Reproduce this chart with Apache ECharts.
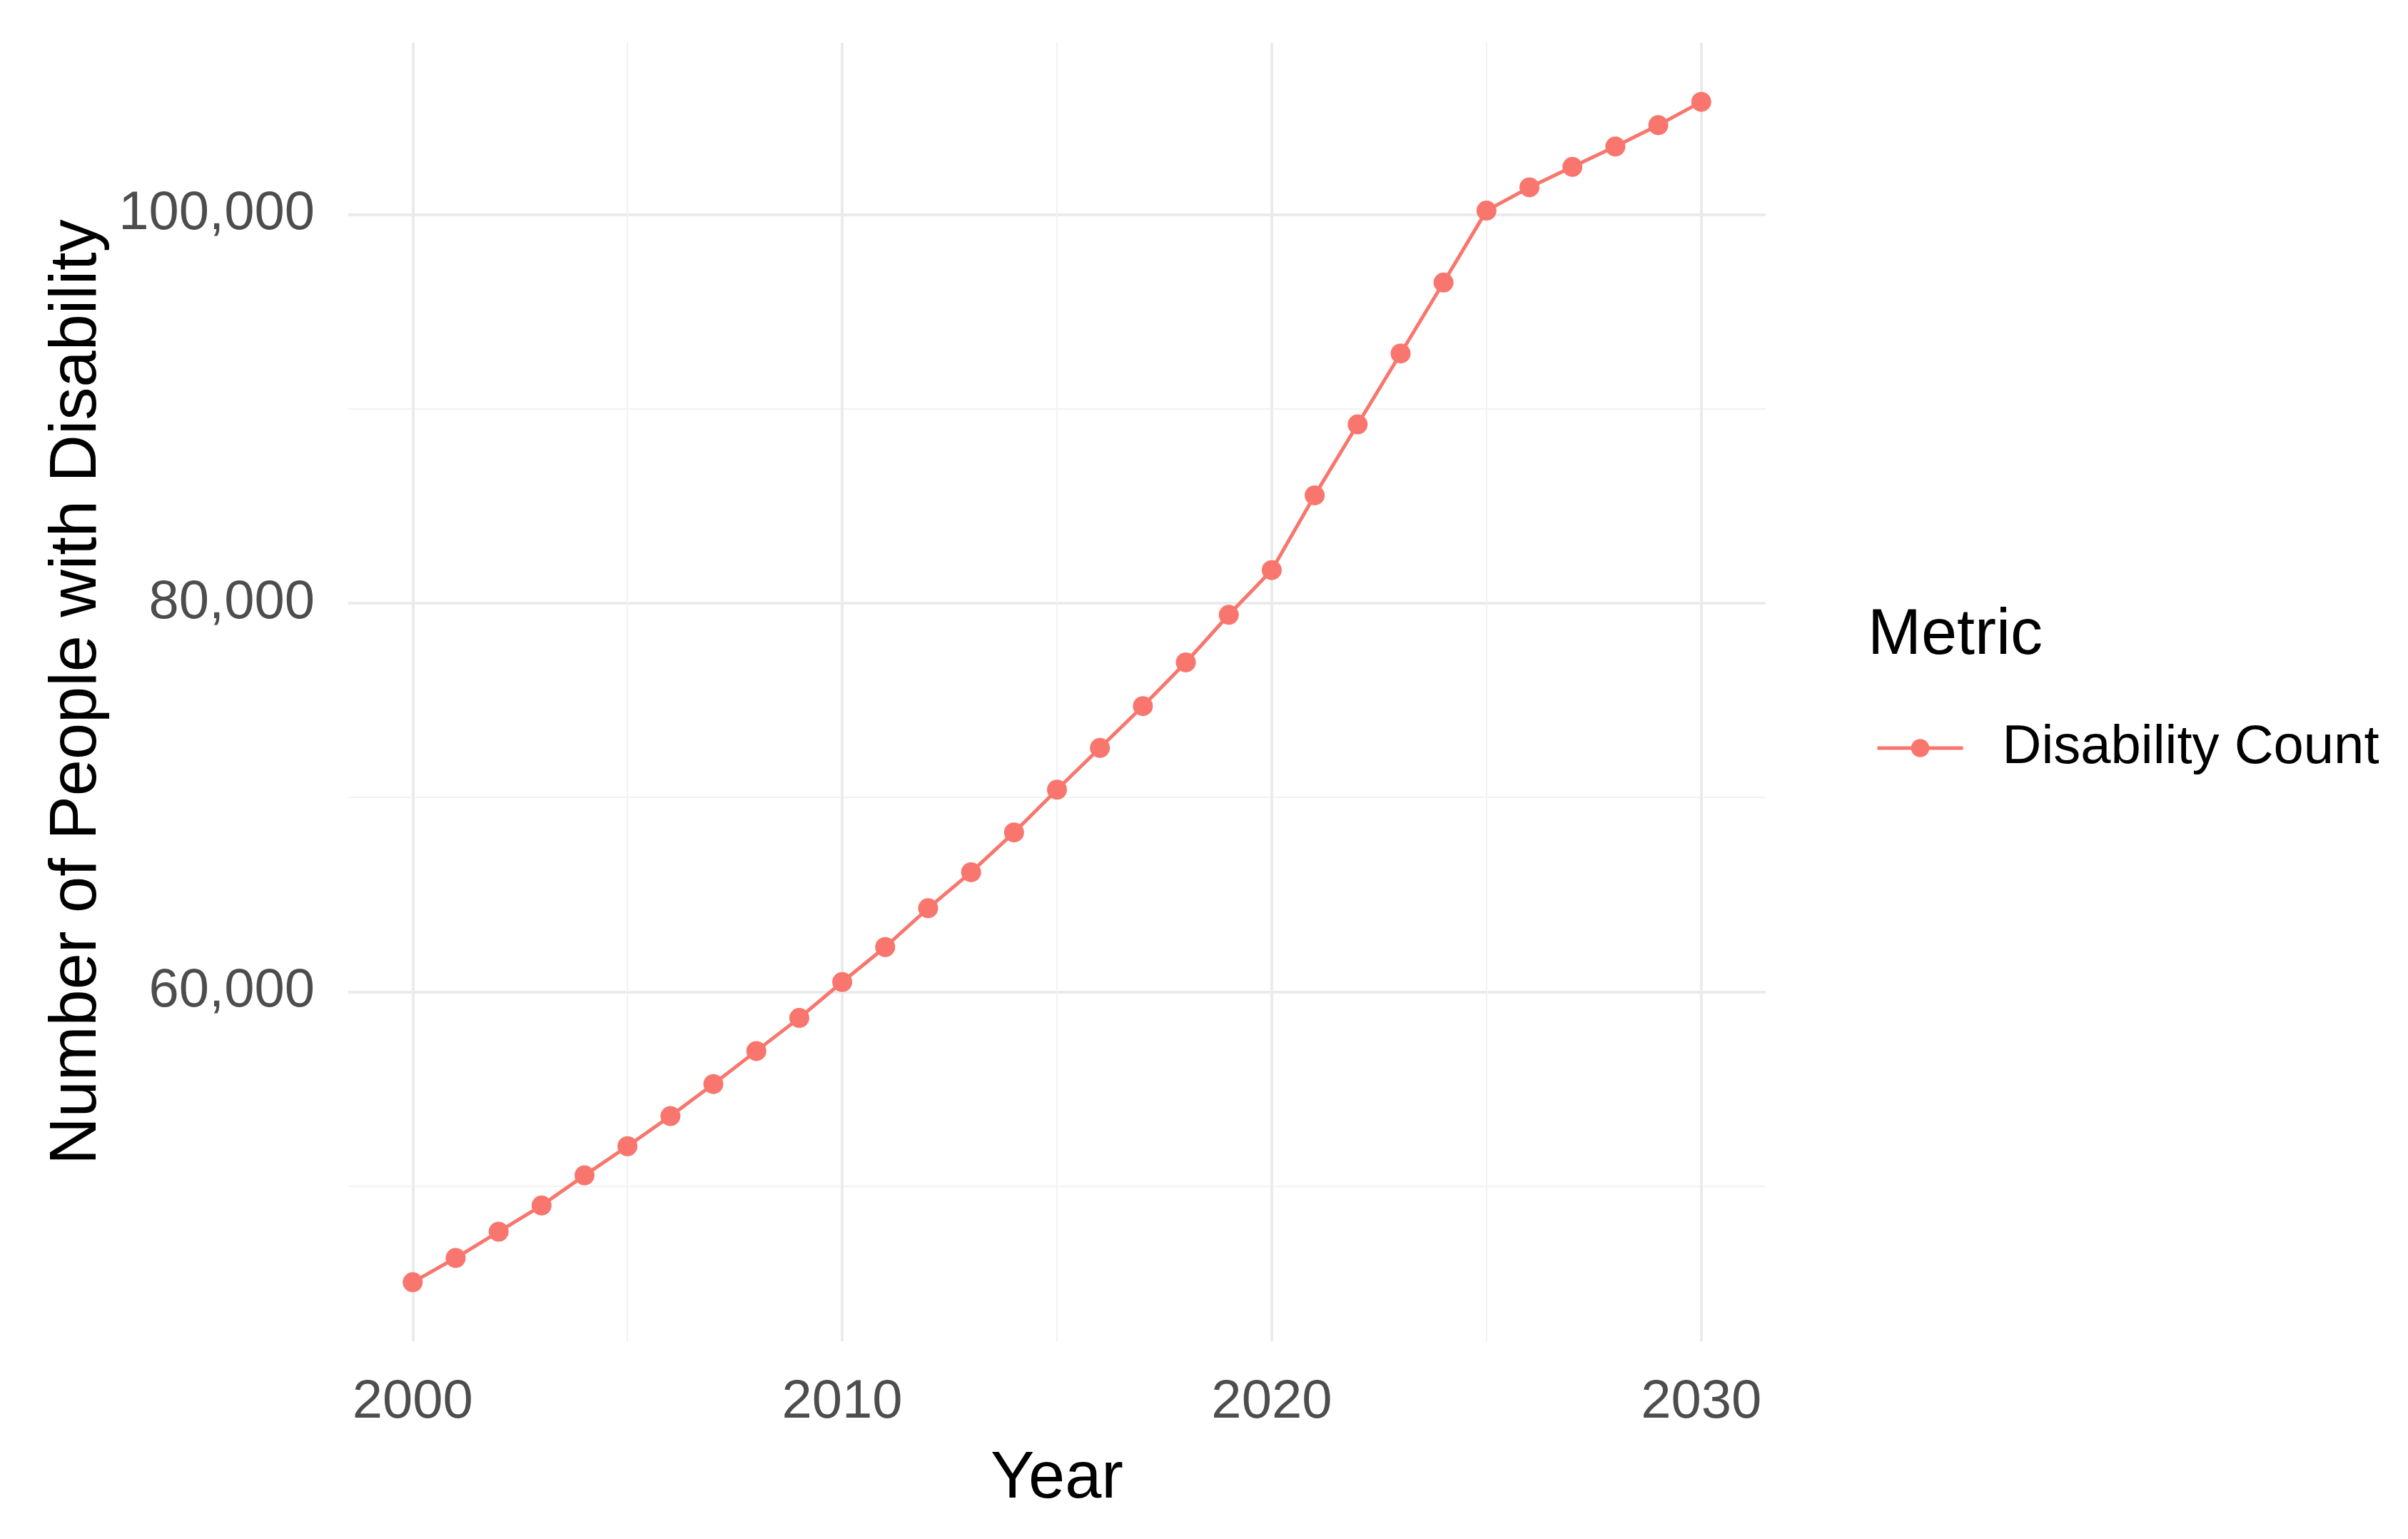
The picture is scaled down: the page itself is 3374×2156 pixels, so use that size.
<!DOCTYPE html>
<html>
<head>
<meta charset="utf-8">
<script src="https://cdn.jsdelivr.net/npm/echarts@6/dist/echarts.min.js"></script>
<style>
html,body{margin:0;padding:0;background:#fff;}
#chart{width:3374px;height:2156px;}
</style>
</head>
<body>
<div id="chart"></div>
<script>
const years = [2000,2001,2002,2003,2004,2005,2006,2007,2008,2009,2010,2011,2012,2013,2014,2015,2016,2017,2018,2019,2020,2021,2022,2023,2024,2025,2026,2027,2028,2029,2030];
const disabilityCount = [45050,46300,47650,49000,50550,52050,53600,55250,56950,58650,60500,62300,64300,66150,68200,70400,72550,74700,76950,79400,81700,85550,89200,92850,96500,100200,101400,102450,103500,104600,105800];
const xMajorTicks = [2000,2010,2020,2030];
const xMinorTicks = [2005,2015,2025];
const yMajorTicks = [60000,80000,100000];
const yMinorTicks = [50000,70000,90000];
const seriesName = 'Disability Count';
const legendTitle = 'Metric';
const xTitle = 'Year';
const yTitle = 'Number of People with Disability';

const FONT = '"Liberation Sans", Arial, sans-serif';
const xMin = 1998.5, xMax = 2031.5;
const yMin = 42012, yMax = 108837;

const chart = echarts.init(document.getElementById('chart'), null, {renderer:'canvas'});
const majorLine = {show:true, lineStyle:{color:'#EBEBEB', width:4}};
const minorLine = {show:true, lineStyle:{color:'#F2F2F2', width:2}};

chart.setOption({
  backgroundColor:'#ffffff',
  animation:false,
  title:{
    text: legendTitle,
    left: 2617, top: 845,
    padding: 0,
    textStyle:{fontFamily:FONT, fontSize:90, fontWeight:'normal', color:'#000', lineHeight:92}
  },
  legend:{
    data:[seriesName],
    left: 2628, top: 1010,
    padding: 0,
    itemWidth: 120, itemHeight: 32,
    itemGap: 10,
    lineStyle:{width:5},
    textStyle:{fontFamily:FONT, fontSize:76, color:'#000', padding:[0,0,0,50]}
  },
  grid:{left:488, right:900, top:60, bottom:2156-1879, containLabel:false},
  xAxis:[{
    type:'value', min:xMin, max:xMax,
    name: xTitle, nameLocation:'middle', nameGap:148,
    nameTextStyle:{fontFamily:FONT, fontSize:92, color:'#000'},
    axisLine:{show:false}, axisTick:{show:false, customValues:xMajorTicks},
    axisLabel:{show:true, customValues:xMajorTicks, margin:48, fontFamily:FONT, fontSize:76, color:'#4D4D4D', formatter:v=>String(v)},
    splitLine: majorLine
  },{
    type:'value', min:xMin, max:xMax, position:'bottom',
    axisLine:{show:false}, axisTick:{show:false, customValues:xMinorTicks},
    axisLabel:{show:false, customValues:xMinorTicks},
    splitLine: minorLine
  }],
  yAxis:[{
    type:'value', min:yMin, max:yMax,
    name: yTitle, nameLocation:'middle', nameGap:333, nameRotate:90,
    nameTextStyle:{fontFamily:FONT, fontSize:92, color:'#000'},
    axisLine:{show:false}, axisTick:{show:false, customValues:yMajorTicks},
    axisLabel:{show:true, customValues:yMajorTicks, margin:47, fontFamily:FONT, fontSize:76, color:'#4D4D4D',
      formatter:v=>Number(v).toLocaleString('en-US')},
    splitLine: majorLine
  },{
    type:'value', min:yMin, max:yMax, position:'left',
    axisLine:{show:false}, axisTick:{show:false, customValues:yMinorTicks},
    axisLabel:{show:false, customValues:yMinorTicks},
    splitLine: minorLine
  }],
  series:[{
    name: seriesName,
    type:'line',
    xAxisIndex:0, yAxisIndex:0,
    data: years.map((y,i)=>[y, disabilityCount[i]]),
    symbol:'circle', symbolSize:28, showSymbol:true,
    itemStyle:{color:'#F8766D'},
    lineStyle:{color:'#F8766D', width:5},
    z:5
  }]
});
</script>
</body>
</html>
